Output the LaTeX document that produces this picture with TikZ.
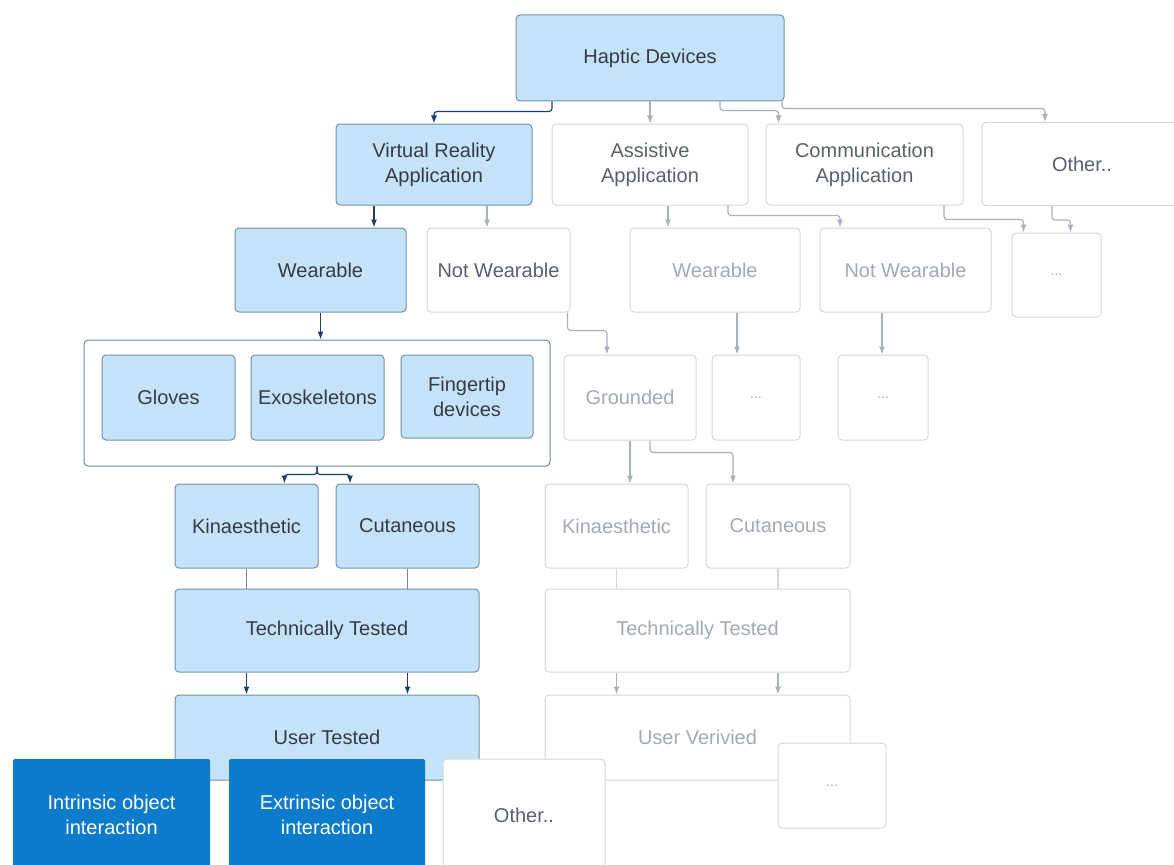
\documentclass[tikz,border=0pt]{standalone}
\usepackage{fontspec}
\setmainfont{Liberation Sans}
\usepackage{xcolor}
\usetikzlibrary{arrows,arrows.meta,calc}
\definecolor{boxblue}{HTML}{C6E2F8}
\definecolor{edgeblue}{HTML}{6E93AE}
\definecolor{navy}{HTML}{1B3D6E}
\definecolor{slate}{HTML}{6F8799}
\definecolor{deepblue}{HTML}{0C7BCB}
\definecolor{textdark}{HTML}{343C48}
\definecolor{textmid}{HTML}{5A616C}
\definecolor{textpale}{HTML}{A3AAB3}
\definecolor{edgepale}{HTML}{D3D8DD}
\definecolor{linkpale}{HTML}{A9B1BA}
\tikzset{>={Latex[length=8pt,width=6pt]}}
\tikzset{
	card/.style={
			rectangle, rounded corners=4pt, align=center, inner sep=2pt,
			font=\fontsize{20}{25}\selectfont
		},
	bluebox/.style={card, draw=edgeblue, fill=boxblue, text=textdark, line width=1pt},
	whitebox/.style={card, draw=edgepale, fill=white, text=textmid, line width=1pt},
	fadedbox/.style={card, draw=edgepale, fill=white, text=textpale, line width=1pt},
	darkbox/.style={card, rounded corners=2pt, fill=deepblue, text=white},
	groupbox/.style={rectangle, rounded corners=4pt, draw=slate, fill=white, line width=1pt},
	navylink/.style={->, draw=navy, line width=1.2pt, rounded corners=3pt},
	slatelink/.style={draw=slate, line width=1.2pt},
	palelink/.style={->, draw=linkpale, line width=1.2pt, rounded corners=3pt},
	palebar/.style={draw=edgepale, line width=1.4pt}
}

\begin{document}
\begin{tikzpicture}[x=1pt, y=-1pt]
	\useasboundingbox (0,0) rectangle (1174,864);

	\node[bluebox, minimum width=268pt, minimum height=86pt] (hap) at (650,58) {Haptic Devices};

	\node[bluebox, minimum width=196pt, minimum height=81pt] (vr) at (434,164.5) {Virtual Reality\\Application};
	\node[whitebox, minimum width=196pt, minimum height=81pt] (assist) at (650,164.5) {Assistive\\Application};
	\node[whitebox, minimum width=197pt, minimum height=81pt] (comm) at (864.5,164.5) {Communication\\Application};
	\node[whitebox, minimum width=200pt, minimum height=83pt] (otherapp) at (1082,164) {Other..};

	\node[bluebox, minimum width=171pt, minimum height=84pt] (wear) at (320.5,270) {Wearable};
	\node[whitebox, minimum width=143pt, minimum height=84pt] (notwear) at (498.5,270) {Not Wearable};
	\node[fadedbox, minimum width=170pt, minimum height=84pt] (wearb) at (715,270) {Wearable};
	\node[fadedbox, minimum width=171pt, minimum height=84pt] (notwearb) at (905.5,270) {Not Wearable};
	\node[fadedbox, minimum width=89pt, minimum height=84pt, font=\fontsize{14}{16}\selectfont] (moreb) at (1056.5,275) {...};

	\node[groupbox, minimum width=466pt, minimum height=126pt] (kind) at (317,403) {};
	\node[bluebox, minimum width=133pt, minimum height=85pt] (gloves) at (168.5,397.5) {Gloves};
	\node[bluebox, minimum width=133pt, minimum height=85pt] (exo) at (317.5,397.5) {Exoskeletons};
	\node[bluebox, minimum width=132pt, minimum height=83pt] (finger) at (467,396.5) {Fingertip\\devices};
	\node[fadedbox, minimum width=132pt, minimum height=85pt] (ground) at (630,397.5) {Grounded};
	\node[fadedbox, minimum width=88pt, minimum height=85pt, font=\fontsize{14}{16}\selectfont] (morec) at (756,397.5) {...};
	\node[fadedbox, minimum width=90pt, minimum height=85pt, font=\fontsize{14}{16}\selectfont] (mored) at (883,397.5) {...};

	\node[bluebox, minimum width=143pt, minimum height=84pt] (kin) at (246.5,526) {Kinaesthetic};
	\node[bluebox, minimum width=143pt, minimum height=84pt] (cut) at (407.5,526) {Cutaneous};
	\node[fadedbox, minimum width=143pt, minimum height=84pt] (kinb) at (616.5,526) {Kinaesthetic};
	\node[fadedbox, minimum width=144pt, minimum height=84pt] (cutb) at (778,526) {Cutaneous};

	\node[bluebox, minimum width=304pt, minimum height=83pt] (tech) at (327,630.5) {Technically Tested};
	\node[fadedbox, minimum width=305pt, minimum height=83pt] (techb) at (697.5,630.5) {Technically Tested};

	\node[bluebox, minimum width=304pt, minimum height=85pt] (user) at (327,737.5) {User Tested};
	\node[fadedbox, minimum width=305pt, minimum height=85pt] (userb) at (697.5,737.5) {User Verivied};
	\node[fadedbox, minimum width=108pt, minimum height=85pt, font=\fontsize{14}{16}\selectfont] (moree) at (832,785.5) {...};

	\node[darkbox, minimum width=197pt, minimum height=112pt] (intr) at (111.5,815) {Intrinsic object\\interaction};
	\node[darkbox, minimum width=196pt, minimum height=112pt] (extr) at (327,815) {Extrinsic object\\interaction};
	\node[whitebox, minimum width=162pt, minimum height=112pt] (otherint) at (524,815) {Other..};

	\draw[navylink] ([xshift=-98pt]hap.south) -- ++(0,10) -| (vr.north);
	\draw[palelink] (hap.south) -- (assist.north);
	\draw[palelink] ([xshift=70pt]hap.south) -- ++(0,9) -| ([xshift=-86pt]comm.north);
	\draw[palelink] ([xshift=132pt]hap.south) -- ++(0,7) -| ([xshift=-37pt]otherapp.north);

	\draw[navylink] ([xshift=-60pt]vr.south) -- ([xshift=-60pt]vr.south |- wear.north);
	\draw[palelink] ([xshift=53pt]vr.south) -- ([xshift=53pt]vr.south |- notwear.north);
	\draw[palelink] ([xshift=18pt]assist.south) -- ([xshift=18pt]assist.south |- wearb.north);
	\draw[palelink] ([xshift=78pt]assist.south) -- ++(0,10) -| ([xshift=-65.5pt]notwearb.north);
	\draw[palelink] ([xshift=79.5pt]comm.south) -- ++(0,14) -| ([xshift=-33pt]moreb.north);
	\draw[palelink] ([xshift=-30pt]otherapp.south) -- ++(0,14) -| ([xshift=14pt]moreb.north);

	\draw[navylink] (wear.south) -- (wear.south |- kind.north);
	\draw[palelink] ([xshift=69pt]notwear.south) -- ++(0,18) -| ([xshift=-23pt]ground.north);
	\draw[palelink] ([xshift=22pt]wearb.south) -- ([xshift=22pt]wearb.south |- morec.north);
	\draw[palelink] ([xshift=-23.5pt]notwearb.south) -- ([xshift=-23.5pt]notwearb.south |- mored.north);

	\draw[navylink] (kind.south) -- ++(0,8) -| ([xshift=38pt]kin.north);
	\draw[navylink] (kind.south) -- ++(0,8) -| ([xshift=-57.5pt]cut.north);
	\draw[palelink] (ground.south) -- (ground.south |- kinb.north);
	\draw[palelink] ([xshift=20pt]ground.south) -- ++(0,12) -| ([xshift=-45pt]cutb.north);

	\draw[slatelink] (kin.south) -- (kin.south |- tech.north);
	\draw[slatelink] (cut.south) -- (cut.south |- tech.north);
	\draw[palebar] (kinb.south) -- (kinb.south |- techb.north);
	\draw[palebar] (cutb.south) -- (cutb.south |- techb.north);

	\draw[navylink] (kin.south |- tech.south) -- (kin.south |- user.north);
	\draw[navylink] (cut.south |- tech.south) -- (cut.south |- user.north);
	\draw[palelink] (kinb.south |- techb.south) -- (kinb.south |- userb.north);
	\draw[palelink] (cutb.south |- techb.south) -- (cutb.south |- userb.north);
\end{tikzpicture}
\end{document}
